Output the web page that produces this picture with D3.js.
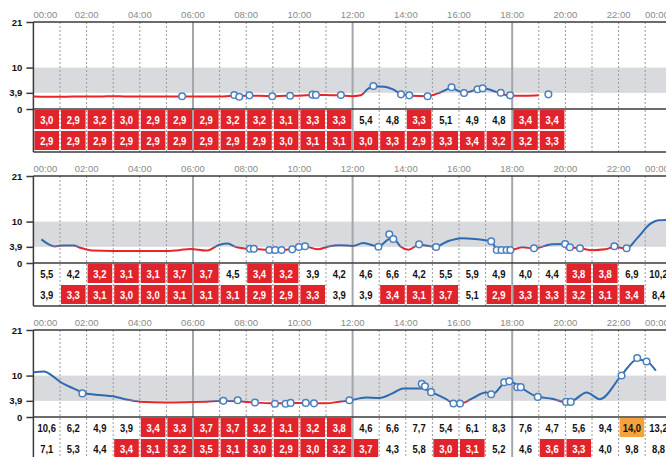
<!DOCTYPE html>
<html><head><meta charset="utf-8">
<script src="https://cdn.jsdelivr.net/npm/d3@7"></script>
<style>
html,body{margin:0;padding:0;background:#fff;overflow:hidden}
svg{display:block}
text{font-family:"Liberation Sans",Arial,sans-serif}
</style></head><body>
<script>
// ---------- DATA ----------
const hourLabels = ["00:00","02:00","04:00","06:00","08:00","10:00","12:00","14:00","16:00","18:00","20:00","22:00","00:00"];
const yTickValues = [0, 3.9, 10, 21];
const yTickLabels = ["0", "3,9", "10", "21"];
const targetLow = 3.9, targetHigh = 10;

// hourly cells (two rows per day)
const day1Row1 = [3.0,2.9,3.2,3.0,2.9,2.9,2.9,3.2,3.2,3.1,3.3,3.3,5.4,4.8,3.3,5.1,4.9,4.8,3.4,3.4];
const day1Row2 = [2.9,2.9,2.9,2.9,2.9,2.9,2.9,2.9,2.9,3.0,3.1,3.1,3.0,3.3,2.9,3.3,3.4,3.2,3.2,3.3];
const day2Row1 = [5.5,4.2,3.2,3.1,3.1,3.7,3.7,4.5,3.4,3.2,3.9,4.2,4.6,6.6,4.2,5.5,5.9,4.9,4.0,4.4,3.8,3.8,6.9,10.2];
const day2Row2 = [3.9,3.3,3.1,3.0,3.0,3.1,3.1,3.1,2.9,2.9,3.3,3.9,3.9,3.4,3.1,3.7,5.1,2.9,3.3,3.3,3.2,3.1,3.4,8.4];
const day3Row1 = [10.6,6.2,4.9,3.9,3.4,3.3,3.7,3.7,3.2,3.1,3.2,3.8,4.6,6.6,7.7,5.4,6.1,8.3,7.6,4.7,5.6,9.4,14.0,13.2];
const day3Row2 = [7.1,5.3,4.4,3.4,3.1,3.2,3.5,3.1,3.0,2.9,3.0,3.2,3.7,4.3,5.8,3.0,3.1,5.2,4.6,3.6,3.3,4.0,9.8,8.8];

// continuous glucose curves [hour, value]
const day1Curve = [[0,3.0],[0.5,2.95],[1,2.95],[1.5,3.0],[2,3.0],[2.5,3.0],[3,3.1],[3.5,3.0],[4,3.0],[4.5,3.0],[5,3.0],[5.5,3.0],[6,3.0],[6.5,3.0],[7,3.0],[7.5,3.2],[8,3.2],[8.5,3.2],[9,3.05],[9.5,3.2],[10,3.2],[10.5,3.4],[11,3.35],[11.5,3.3],[12,3.1],[12.3,3.3],[12.6,5.0],[12.8,5.5],[13.2,5.4],[13.5,4.8],[13.8,3.7],[14.2,3.2],[14.8,3.1],[15.3,4.0],[15.7,5.0],[16.2,3.9],[16.7,4.8],[16.9,5.0],[17.5,3.9],[17.9,3.2],[18.5,3.2],[19.0,3.3]];
const day2Curve = [[0.3,5.7],[0.5,4.8],[0.8,4.0],[1.1,4.2],[1.5,4.2],[1.8,3.6],[2.2,3.0],[3,2.9],[4,2.9],[5,2.9],[5.5,3.1],[5.9,3.4],[6.5,3.0],[7.0,4.4],[7.3,4.7],[7.6,3.9],[8.1,3.4],[8.5,3.3],[9,3.1],[9.5,3.2],[9.9,3.7],[10.2,4.0],[10.7,3.3],[11.1,4.0],[11.5,4.3],[12,4.1],[12.4,4.8],[12.97,4.0],[13.4,5.8],[13.55,5.8],[13.8,4.0],[14.1,3.2],[14.5,4.4],[15.1,3.9],[15.6,5.3],[16.1,6.0],[16.6,5.8],[17.2,5.2],[17.45,3.2],[17.9,3.1],[18.4,3.8],[18.8,3.5],[19.5,4.5],[20,4.6],[20.2,3.8],[20.6,3.5],[21,3.1],[21.5,3.3],[21.85,3.9],[22.3,3.5],[22.7,6.0],[23.2,9.5],[23.5,10.3],[23.9,10.4]];
const day3Curve = [[0,10.8],[0.4,11.0],[0.7,10.0],[1,8.5],[1.5,6.9],[1.9,5.8],[2.5,5.3],[3,5.0],[3.5,4.2],[4,3.7],[5,3.5],[6,3.6],[6.5,3.7],[7.1,3.9],[7.7,3.8],[8.3,3.5],[9,3.3],[9.5,3.3],[10,3.4],[10.5,3.3],[11,3.3],[11.5,3.7],[11.9,4.0],[12.5,4.7],[13,4.6],[13.5,5.7],[13.9,6.9],[14.6,6.9],[15,5.9],[15.5,4.4],[15.8,3.3],[16.1,3.3],[16.5,4.5],[17,5.9],[17.3,5.7],[17.7,8.1],[18,8.3],[18.3,7.2],[18.9,5.0],[19.5,4.4],[20,3.6],[20.2,3.7],[20.8,5.9],[21.3,4.3],[22.1,10.0],[22.7,13.9],[23.05,13.5],[23.4,11.2]];

// finger-stick readings [hour, value]
const day1Readings = [[5.59,3.07],[7.55,3.38],[7.74,2.97],[8.12,3.3],[8.98,3.07],[9.65,3.2],[10.49,3.46],[10.62,3.4],[11.56,3.38],[12.78,5.56],[13.82,3.54],[14.13,3.3],[14.82,3.07],[15.72,5.24],[16.19,3.86],[16.7,4.75],[16.89,5.0],[17.57,3.94],[17.92,3.3],[19.36,3.54]];
const day2Readings = [[8.14,3.45],[8.29,3.45],[8.87,3.14],[9.09,3.14],[9.33,3.14],[9.73,3.3],[9.98,3.86],[10.21,4.03],[12.97,3.94],[13.38,6.93],[13.53,5.8],[14.5,4.5],[15.14,3.86],[17.21,5.24],[17.42,3.14],[17.6,3.14],[17.79,3.14],[17.93,3.14],[18.82,3.55],[19.99,4.6],[20.17,3.8],[20.55,3.55],[21.84,4.03],[22.3,3.55]];
const day3Readings = [[1.84,5.7],[7.14,3.9],[7.68,4.05],[8.33,3.5],[9.08,3.2],[9.48,3.2],[9.67,3.4],[10.24,3.4],[10.55,3.3],[11.88,4.05],[14.6,8.0],[14.72,7.4],[14.95,6.0],[15.79,3.26],[16.04,3.26],[17.21,5.5],[17.7,8.4],[17.89,8.6],[18.19,7.2],[18.32,7.2],[18.96,4.85],[20.02,3.65],[20.2,3.65],[22.11,10.0],[22.7,14.25],[23.05,13.4]];

// ---------- DRAW ----------
const W = 666, H = 457;
const svg = d3.select("body").append("svg").attr("width", W).attr("height", H);
const x = d3.scaleLinear().domain([0, 24]).range([33.4, 33.4 + 24 * 26.6]);
const fmt = v => d3.format(".1f")(v).replace(".", ",");

const days = [
  {rows: [day1Row1, day1Row2], curve: day1Curve, readings: day1Readings},
  {rows: [day2Row1, day2Row2], curve: day2Curve, readings: day2Readings},
  {rows: [day3Row1, day3Row2], curve: day3Curve, readings: day3Readings}
];

const RED = "#e1242b", ORANGE = "#f4a23b", BLUE = "#2e6ab1", LRED = "#e8262a";

days.forEach((d, i) => {
  const t = i * 154;
  const g = svg.append("g");
  const y = d3.scaleLinear().domain([0, 21]).range([109 + t, 22 + t]);
  const top = 22 + t, zero = 109 + t, bottom = 152 + t;
  const rowY = [110 + t, 131 + t], rowH = 19;

  // target band
  g.append("rect").attr("x", x(0)).attr("y", y(targetHigh)).attr("width", W - x(0))
    .attr("height", y(targetLow) - y(targetHigh)).attr("fill", "#d8dadd");

  // cells
  d.rows.forEach((row, r) => {
    const cg = g.append("g");
    cg.selectAll("rect").data(row).join("rect")
      .attr("x", (v, k) => x(k) + 1).attr("y", rowY[r])
      .attr("width", x(1) - x(0) - 2).attr("height", rowH)
      .attr("fill", v => v < targetLow ? RED : (v >= 14 ? ORANGE : "none"));
  });

  // grid lines
  const hours = d3.range(1, 24);
  g.selectAll("line.grid").data(hours.filter(h => h % 6 !== 0)).join("line")
    .attr("x1", h => x(h)).attr("x2", h => x(h)).attr("y1", top).attr("y2", bottom)
    .attr("stroke", "#9a9a9a").attr("stroke-width", 1).attr("stroke-dasharray", "2,2");
  g.selectAll("line.major").data([6, 12, 18]).join("line")
    .attr("x1", h => x(h)).attr("x2", h => x(h)).attr("y1", top).attr("y2", bottom)
    .attr("stroke", "#a3a6aa").attr("stroke-width", 2);

  // cell labels
  d.rows.forEach((row, r) => {
    g.append("g").selectAll("text").data(row).join("text")
      .attr("transform", (v, k) => `translate(${x(k + 0.5)},${rowY[r] + 13.5}) scale(0.86,1)`)
      .attr("text-anchor", "middle").attr("font-size", 11).attr("font-weight", "bold")
      .attr("fill", v => v < targetLow ? "#fff" : "#111")
      .text(fmt);
  });

  // horizontal frame lines
  [top, zero, bottom].forEach(yy => {
    g.append("line").attr("x1", x(0)).attr("x2", W).attr("y1", yy).attr("y2", yy)
      .attr("stroke", "#3a3a3a").attr("stroke-width", 1.5);
  });

  // y axis
  const yAxis = d3.axisLeft(y).tickValues(yTickValues).tickSize(7)
    .tickFormat((v, k) => yTickLabels[k]);
  const ax = g.append("g").attr("transform", `translate(${x(0)},0)`).call(yAxis);
  ax.select(".domain").attr("d", `M0,${top}V${bottom}`).attr("stroke", "#3a3a3a").attr("stroke-width", 1.5);
  ax.selectAll(".tick line").attr("stroke", "#3a3a3a").attr("stroke-width", 1.5);
  ax.selectAll(".tick text").attr("font-size", 9.5).attr("font-weight", "bold")
    .attr("fill", "#111").attr("x", -11).style("font-family", "'Liberation Sans',Arial,sans-serif");

  // hour labels
  g.append("g").selectAll("text").data(hourLabels).join("text")
    .attr("x", (s, k) => k === 0 ? x(0) + 12 : (k === 12 ? 645 : x(k * 2)))
    .attr("y", 17.5 + t)
    .attr("text-anchor", (s, k) => k === 12 ? "start" : "middle")
    .attr("font-size", 9.5).attr("fill", "#8a8a8a").text(s => s);

  // glucose curve, blue inside/above target, red below
  const line = d3.line().x(p => x(p[0])).y(p => y(p[1])).curve(d3.curveMonotoneX);
  const idA = `above${i}`, idB = `below${i}`;
  const defs = svg.append("defs");
  defs.append("clipPath").attr("id", idA).append("rect")
    .attr("x", 0).attr("y", top - 10).attr("width", W).attr("height", y(targetLow) - top + 10);
  defs.append("clipPath").attr("id", idB).append("rect")
    .attr("x", 0).attr("y", y(targetLow)).attr("width", W).attr("height", zero - y(targetLow));
  g.append("path").datum(d.curve).attr("d", line).attr("fill", "none")
    .attr("stroke", BLUE).attr("stroke-width", 2).attr("clip-path", `url(#${idA})`);
  g.append("path").datum(d.curve).attr("d", line).attr("fill", "none")
    .attr("stroke", LRED).attr("stroke-width", 2).attr("clip-path", `url(#${idB})`);

  // readings
  g.append("g").selectAll("circle").data(d.readings).join("circle")
    .attr("cx", p => x(p[0])).attr("cy", p => y(p[1])).attr("r", 3.3)
    .attr("fill", "#fff").attr("stroke", "#4a7fc0").attr("stroke-width", 1.5);
});
</script>
</body></html>
